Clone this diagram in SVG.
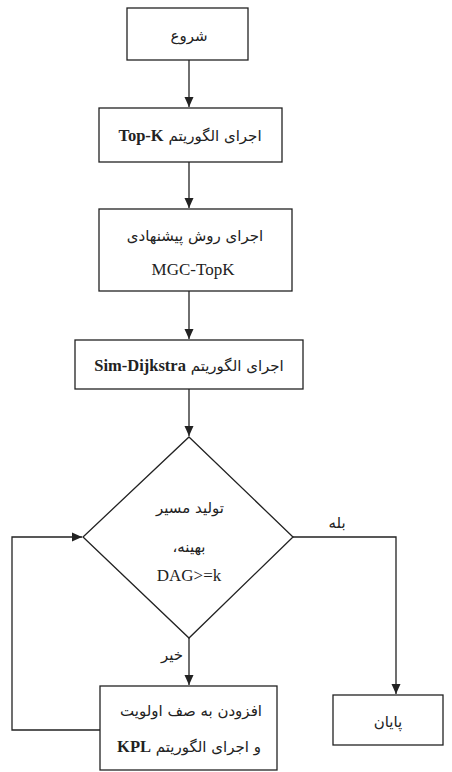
<svg xmlns="http://www.w3.org/2000/svg" width="452" height="772" viewBox="0 0 452 772">
<style>
.box{fill:#fff;stroke:#222;stroke-width:1.3}
.ln{fill:none;stroke:#222;stroke-width:1.3}
.t{font-family:"Liberation Serif","DejaVu Sans",serif;font-size:16px;fill:#222;text-anchor:middle}
.fa{font-family:"DejaVu Sans","Noto Sans",sans-serif;font-size:15px}
.b{font-weight:bold;font-family:"Liberation Serif",serif;font-size:16.5px}
</style>
<defs>
<marker id="ah" markerWidth="10" markerHeight="12" refX="10" refY="5" orient="auto" markerUnits="userSpaceOnUse">
<path d="M0,0.5 L10,5 L0,9.5 Z" fill="#222"/>
</marker>
</defs>
<rect width="452" height="772" fill="#fff"/>
<g id="connectors">
<line class="ln" x1="189" y1="60" x2="189" y2="107" marker-end="url(#ah)"/>
<line class="ln" x1="189" y1="162" x2="189" y2="208" marker-end="url(#ah)"/>
<line class="ln" x1="189" y1="291" x2="189" y2="339" marker-end="url(#ah)"/>
<line class="ln" x1="189" y1="389" x2="189" y2="436" marker-end="url(#ah)"/>
<polyline class="ln" points="293,537 396,537 396,694" marker-end="url(#ah)"/>
<line class="ln" x1="189" y1="638" x2="189" y2="685" marker-end="url(#ah)"/>
<polyline class="ln" points="100,730 12,730 12,537 82,537" marker-end="url(#ah)"/>
<text class="t fa" x="337" y="528" direction="rtl">بله</text>
<text class="t fa" x="172" y="660" direction="rtl">خیر</text>
</g>
<g id="start">
<rect class="box" x="127" y="8" width="121" height="52"/>
<text class="t fa" x="189" y="41" direction="rtl">شروع</text>
</g>
<g id="topk">
<rect class="box" x="99" y="108" width="183" height="54"/>
<text class="t" x="190" y="141" direction="rtl"><tspan class="fa">اجرای الگوریتم </tspan><tspan class="b">Top-K</tspan></text>
</g>
<g id="mgc">
<rect class="box" x="99" y="209" width="193" height="82"/>
<text class="t fa" x="195" y="241" direction="rtl">اجرای روش پیشنهادی</text>
<text class="t" x="193" y="275" style="font-size:17px">MGC-TopK</text>
</g>
<g id="simdij">
<rect class="box" x="75" y="340" width="228" height="49"/>
<text class="t" x="189" y="371" direction="rtl"><tspan class="fa">اجرای الگوریتم </tspan><tspan class="b">Sim-Dijkstra</tspan></text>
</g>
<g id="decision">
<polygon class="box" points="189,437 293,537 189,638 83,537"/>
<text class="t fa" x="190" y="513" direction="rtl">تولید مسیر</text>
<text class="t fa" x="189" y="552" direction="rtl">بهینه،</text>
<text class="t" x="189" y="581" style="font-size:17px">DAG&gt;=k</text>
</g>
<g id="kpl">
<rect class="box" x="100" y="686" width="177" height="84"/>
<text class="t fa" x="191" y="716" direction="rtl">افزودن به صف اولویت</text>
<text class="t" x="189" y="752" direction="rtl"><tspan class="fa">و اجرای الگوریتم </tspan><tspan class="b">KPL</tspan></text>
</g>
<g id="end">
<rect class="box" x="333" y="695" width="110" height="50"/>
<text class="t fa" x="388" y="727" direction="rtl">پایان</text>
</g>
</svg>
